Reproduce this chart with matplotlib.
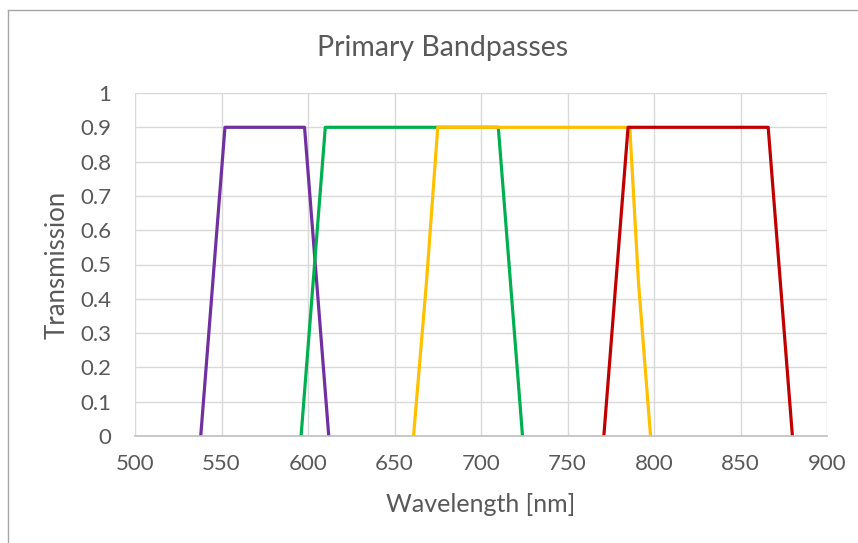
import matplotlib.pyplot as plt
from matplotlib.lines import Line2D

plt.rcParams['font.family'] = ['Lato', 'DejaVu Sans']

# band edges
purple_x = [538, 552, 598, 612]
purple_y = [0, 0.9, 0.9, 0]
green_x = [596, 610, 710, 724]
green_y = [0, 0.9, 0.9, 0]
yellow_x = [661, 668.5, 675, 786, 791, 798]
yellow_y = [0, 0.45, 0.9, 0.9, 0.45, 0]
red_x = [771, 785, 866, 880]
red_y = [0, 0.9, 0.9, 0]

x_ticks = [500, 550, 600, 650, 700, 750, 800, 850, 900]
y_ticks = [0, 0.1, 0.2, 0.3, 0.4, 0.5, 0.6, 0.7, 0.8, 0.9, 1]
y_labels = ['0', '0.1', '0.2', '0.3', '0.4', '0.5', '0.6', '0.7', '0.8', '0.9', '1']

txt = '#595959'

fig = plt.figure(figsize=(8.58, 5.43), dpi=100)
ax = fig.add_axes([135/858, 1 - 436/543, (827 - 135)/858, (436 - 93)/543])

lw = 2.3
ax.plot(purple_x, purple_y, color='#7030A0', lw=lw)
ax.plot(green_x, green_y, color='#00B050', lw=lw)
ax.plot(yellow_x, yellow_y, color='#FFC000', lw=lw)
ax.plot(red_x, red_y, color='#C00000', lw=lw)

ax.set_xlim(500, 900)
ax.set_ylim(0, 1)
ax.set_xticks(x_ticks)
ax.set_yticks(y_ticks)
ax.set_yticklabels(y_labels)
ax.tick_params(length=0, labelsize=16, colors=txt)
ax.tick_params(axis='x', pad=13)
ax.tick_params(axis='y', pad=17)
ax.grid(True, color='#d9d9d9', lw=1)
ax.set_axisbelow(True)
for s in ['top', 'right', 'left']:
    ax.spines[s].set_visible(False)
ax.spines['bottom'].set_color('#bfbfbf')
ax.spines['bottom'].set_linewidth(1.2)

ax.set_xlabel('Wavelength [nm]', fontsize=18, color=txt, va='center')
ax.set_ylabel('Transmission', fontsize=18.5, color=txt, va='center')
ax.xaxis.set_label_coords(0.5, (436 - 505) / 343)
ax.yaxis.set_label_coords((57 - 135) / 692, 0.5)

fig.text(443/858, 1 - 48/543, 'Primary Bandpasses', ha='center', va='center',
         fontsize=20.5, color=txt)

# chart frame
fig.add_artist(Line2D([8/858, 8/858], [0, 1 - 10/543], color='#a6a6a6', lw=1))
fig.add_artist(Line2D([8/858, 1], [1 - 10/543, 1 - 10/543], color='#a6a6a6', lw=1))

fig.savefig('out.png', dpi=100)
